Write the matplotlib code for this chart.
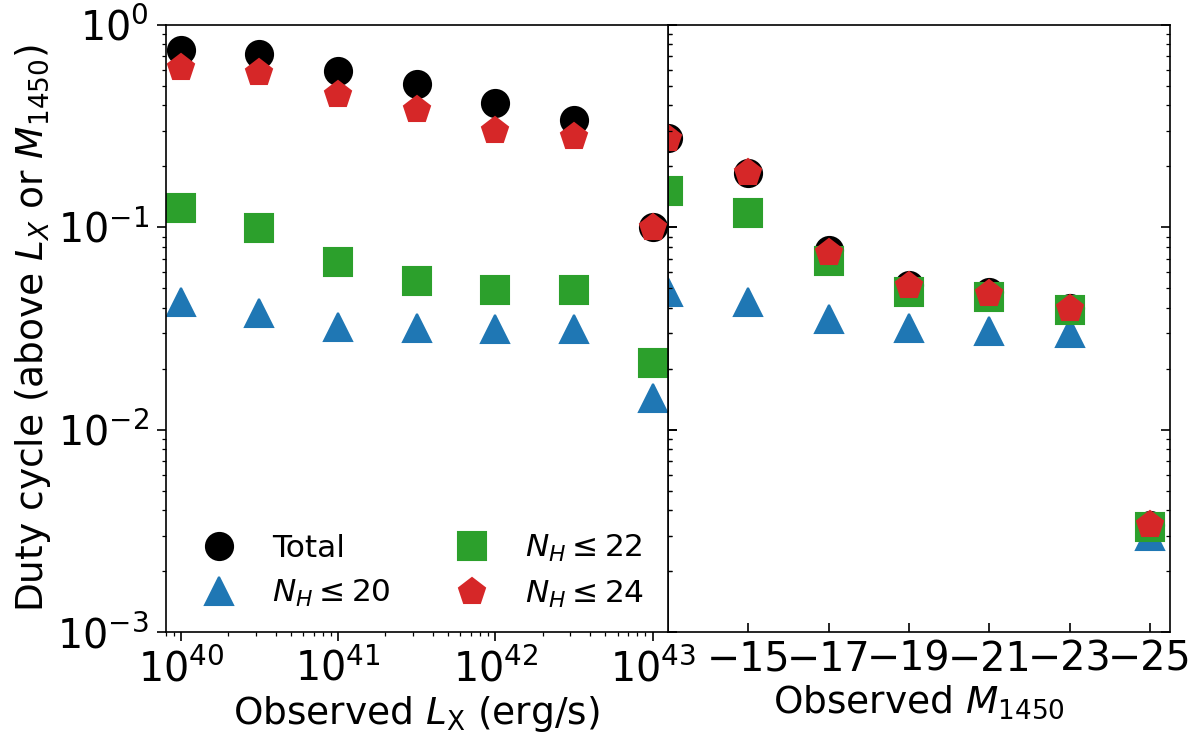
import matplotlib
matplotlib.use("Agg")
import matplotlib.pyplot as plt

# ---- data ----
lx = [1e40, 3.16e40, 1e41, 3.16e41, 1e42, 3.16e42, 1e43]
total_lx = [0.75, 0.72, 0.59, 0.51, 0.41, 0.34, 0.100]
nh20_lx = [0.0429, 0.0377, 0.0323, 0.0317, 0.0314, 0.0316, 0.0144]
nh22_lx = [0.125, 0.099, 0.067, 0.054, 0.049, 0.049, 0.0213]
nh24_lx = [0.61, 0.58, 0.45, 0.38, 0.30, 0.28, 0.099]

m1450 = [-13, -15, -17, -19, -21, -23, -25]
total_m = [0.275, 0.186, 0.077, 0.052, 0.048, 0.040, 0.0034]
nh20_m = [0.048, 0.0429, 0.0354, 0.0318, 0.0309, 0.030, 0.0030]
nh22_m = [0.151, 0.117, 0.068, 0.048, 0.045, 0.039, 0.0033]
nh24_m = [0.272, 0.186, 0.075, 0.051, 0.047, 0.0395, 0.0034]

labels = ['Total', r'$N_H \leq 20$', r'$N_H \leq 22$', r'$N_H \leq 24$']
styles = [('o', 'k'), ('^', 'C0'), ('s', 'C2'), ('p', 'C3')]
xticks_m = [-15, -17, -19, -21, -23, -25]

fig, (ax1, ax2) = plt.subplots(1, 2, sharey=True, figsize=(8, 5), dpi=150)
fig.subplots_adjust(left=0.138, right=0.975, top=0.967, bottom=0.157, wspace=0)

ms = 13
handles = []
for (mk, col), ys, lab in zip(styles, [total_lx, nh20_lx, nh22_lx, nh24_lx], labels):
    h, = ax1.plot(lx, ys, linestyle='none', marker=mk, color=col, ms=ms, label=lab)
    handles.append(h)
for (mk, col), ys in zip(styles, [total_m, nh20_m, nh22_m, nh24_m]):
    ax2.plot(m1450, ys, linestyle='none', marker=mk, color=col, ms=ms)

ax1.set_xscale('log')
ax1.set_yscale('log')
ax1.set_xlim(8e39, 1.25e43)
ax1.set_ylim(1e-3, 1)
ax1.tick_params(axis='both', which='both', labelsize=19)
ax1.tick_params(axis='both', which='major', length=4.5)
ax1.tick_params(axis='y', which='both', right=True)
ax1.set_xlabel(r'Observed $L_{\rm X}$ (erg/s)', fontsize=18, labelpad=2)
ax1.set_ylabel(r'Duty cycle (above $L_X$ or $M_{1450}$)', fontsize=18, labelpad=2)

ax2.set_xlim(-13, -25.5)
ax2.set_xticks(xticks_m)
ax2.tick_params(axis='x', which='both', direction='in', labelsize=19)
ax2.tick_params(axis='y', which='both', direction='in', left=True, right=True,
                labelleft=False)
ax2.tick_params(axis='both', which='major', length=4.5)
ax2.set_xlabel(r'Observed $M_{1450}$', fontsize=18, labelpad=2)

ax1.legend(handles=handles, loc='lower left', ncol=2, frameon=False,
           fontsize=15, numpoints=1, borderaxespad=0.3, columnspacing=1.6,
           handletextpad=0.7, labelspacing=0.5)
ax1.set_zorder(ax2.get_zorder() + 1)

fig.savefig('out.png', dpi=150)
